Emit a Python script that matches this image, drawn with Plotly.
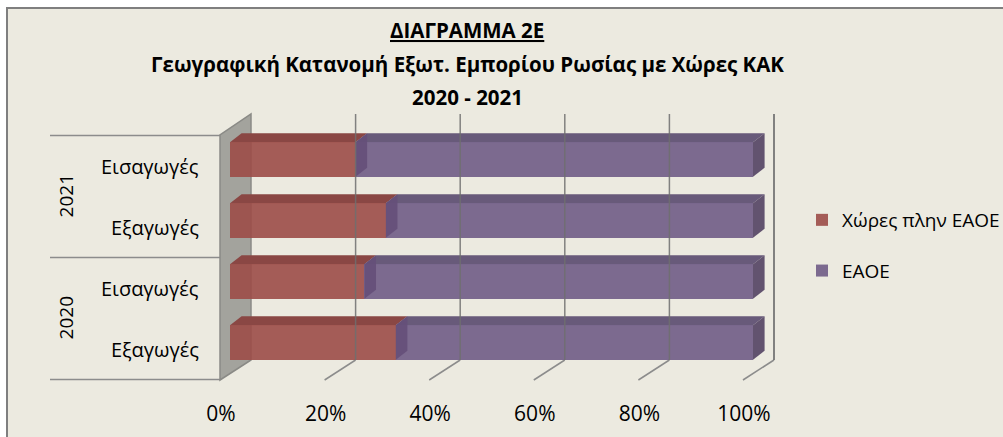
import plotly.graph_objects as go

# ---------------- data (bottom -> top) ----------------
years = ["2020", "2020", "2021", "2021"]
flows = ["Εξαγωγές", "Εισαγωγές", "Εξαγωγές", "Εισαγωγές"]
other_cis = [31.7, 25.7, 29.8, 24.0]      # Χώρες πλην ΕΑΟΕ (%)
eaeu = [68.3, 74.3, 70.2, 76.0]           # ΕΑΟΕ (%)
series_names = ["Χώρες πλην ΕΑΟΕ", "ΕΑΟΕ"]
x_ticks = [0, 20, 40, 60, 80, 100]
title_lines = ["ΔΙΑΓΡΑΜΜΑ 2Ε",
               "Γεωγραφική Κατανομή Εξωτ. Εμπορίου Ρωσίας με Χώρες ΚΑΚ",
               "2020 - 2021"]

# ---------------- geometry / style ----------------
W, H = 1003, 437
PL, PR, PT, PB = 219, 776, 112, 382          # plot area in px
X0PX, KX = 230.0, 5.23                        # value 0 -> px, px per %
Y0PX, KY = 342.5, 61.0                        # index 0 -> px, px per index
xr = [(PL - X0PX) / KX, (PR - X0PX) / KX]
yr = [(Y0PX - PB) / KY, (Y0PX - PT) / KY]

BAR_W = 0.566
DX, DY = 11.6 / KX, 9.0 / KY                  # bar depth offset (data units)
FLOOR_X, WALL_X = -10.0 / KX, 21.0 / KX       # floor front / back wall offsets
Y_FLOOR_F, Y_FLOOR_B = (Y0PX - 380) / KY, (Y0PX - 360) / KY
Y_TOP_F, Y_TOP_B = (Y0PX - 135) / KY, (Y0PX - 114) / KY
FRONT_SHIFT_Y = -0.105

RED = "rgba(156,76,72,0.9)"
PUR = "rgba(114,94,136,0.92)"
RED_TOP = "#8A4744"
PUR_TOP = "#685A7A"
PUR_SIDE = "#62536F"
PUR_INNER = "#654F79"
BG = "#ECEAE0"
GRID = "rgba(110,110,110,0.85)"
FONT = "Open Sans"


def ppx(px):
    return (px - PL) / (PR - PL)


def ppy(py):
    return (PB - py) / (PB - PT)


def path(pts):
    return "M " + " L ".join(f"{x},{y}" for x, y in pts) + " Z"


ys = list(range(len(years)))
shapes = []

# chart-area frame
shapes.append(dict(type="rect", xref="paper", yref="paper", layer="below",
                   x0=ppx(7), x1=ppx(1012), y0=ppy(446), y1=ppy(8),
                   fillcolor=BG, line=dict(color="#7F7F7F", width=2)))

# left wall
shapes.append(dict(type="path", xref="x", yref="y", layer="below",
                   path=path([(FLOOR_X, Y_FLOOR_F), (FLOOR_X, Y_TOP_F),
                              (WALL_X, Y_TOP_B), (WALL_X, Y_FLOOR_B)]),
                   fillcolor="#A3A39D", line=dict(color="#8A8A86", width=1.5)))

# bar depth faces
for i, (r, p) in enumerate(zip(other_cis, eaeu)):
    yt, yb = i + BAR_W / 2, i - BAR_W / 2
    tot = r + p
    shapes.append(dict(type="path", xref="x", yref="y", layer="below",
                       path=path([(0, yt), (r, yt), (r + DX, yt + DY), (DX, yt + DY)]),
                       fillcolor=RED_TOP, line=dict(width=0)))
    shapes.append(dict(type="path", xref="x", yref="y", layer="below",
                       path=path([(r, yt), (tot, yt), (tot + DX, yt + DY), (r + DX, yt + DY)]),
                       fillcolor=PUR_TOP, line=dict(width=0)))
    shapes.append(dict(type="path", xref="x", yref="y", layer="below",
                       path=path([(tot, yb), (tot, yt), (tot + DX, yt + DY), (tot + DX, yb + DY)]),
                       fillcolor=PUR_SIDE, line=dict(width=0)))
    shapes.append(dict(type="path", xref="x", yref="y", layer="above",
                       path=path([(r, yb), (r, yt), (r + DX, yt + DY), (r + DX, yb + DY)]),
                       fillcolor=PUR_INNER, opacity=0.9, line=dict(width=0)))

# back-wall gridlines and floor diagonals
for v in x_ticks[1:]:
    shapes.append(dict(type="line", xref="x", yref="y", layer="above",
                       x0=v + WALL_X, x1=v + WALL_X, y0=Y_FLOOR_B, y1=Y_TOP_B,
                       line=dict(color=GRID, width=2 if v == 100 else 1.5)))
    shapes.append(dict(type="line", xref="x", yref="y", layer="below",
                       x0=v + FLOOR_X, x1=v + WALL_X, y0=Y_FLOOR_F, y1=Y_FLOOR_B,
                       line=dict(color="#8C8C8C", width=1.5)))

# category-axis separators
for b in [len(years) - 0.5, 1.5, -0.5]:
    shapes.append(dict(type="line", xref="paper", yref="y", layer="below",
                       x0=ppx(50), x1=ppx(220), y0=b + FRONT_SHIFT_Y, y1=b + FRONT_SHIFT_Y,
                       line=dict(color="#8C8C8C", width=1.5)))

annotations = []
for i, f in enumerate(flows):
    annotations.append(dict(xref="paper", yref="y", x=ppx(201), y=i - 0.12,
                            xanchor="right", yanchor="middle", showarrow=False,
                            text=f, font=dict(family=FONT, size=20, color="#000")))
for yv, lab in [(0.5, "2020"), (2.5, "2021")]:
    annotations.append(dict(xref="paper", yref="y", x=ppx(66), y=yv + FRONT_SHIFT_Y,
                            xanchor="center", yanchor="middle", showarrow=False,
                            textangle=-90, text=lab,
                            font=dict(family=FONT, size=19, color="#000")))
for ty, line in zip([30, 64, 97], title_lines):
    txt = f"<b><u>{line}</u></b>" if ty == 30 else f"<b>{line}</b>"
    annotations.append(dict(xref="paper", yref="paper", x=ppx(467), y=ppy(ty),
                            xanchor="center", yanchor="middle", showarrow=False,
                            text=txt, font=dict(family=FONT, size=20.5, color="#000")))

fig = go.Figure()
fig.add_trace(go.Bar(y=ys, x=other_cis, orientation="h", width=BAR_W,
                     name=series_names[0], marker=dict(color=RED, line=dict(width=0)),
                     legendgroup="a"))
fig.add_trace(go.Bar(y=ys, x=eaeu, orientation="h", width=BAR_W,
                     name=series_names[1], marker=dict(color=PUR, line=dict(width=0)),
                     legendgroup="b"))

fig.update_layout(
    width=W, height=H, autosize=False,
    margin=dict(l=PL, r=W - PR, t=PT, b=H - PB, autoexpand=False),
    barmode="stack",
    paper_bgcolor="white", plot_bgcolor="rgba(0,0,0,0)",
    shapes=shapes, annotations=annotations,
    showlegend=True,
    legend=dict(x=ppx(802), y=ppy(201), xanchor="left", yanchor="top",
                font=dict(family=FONT, size=19, color="#000"),
                bgcolor="rgba(0,0,0,0)", tracegroupgap=23, traceorder="grouped"),
    xaxis=dict(range=xr, tickvals=x_ticks, ticktext=[f"{v}%" for v in x_ticks],
               showgrid=False, zeroline=False, showline=False, ticks="",
               ticklabelshift=-9, ticklabelstandoff=17,
               tickfont=dict(family=FONT, size=21, color="#000"), fixedrange=True),
    yaxis=dict(range=yr, showticklabels=False, showgrid=False, zeroline=False,
               showline=False, ticks="", fixedrange=True),
    font=dict(family=FONT),
)

fig.write_html("out.html", config={"displayModeBar": False},
               post_script="document.body.style.margin='0';document.body.style.overflow='hidden';")
